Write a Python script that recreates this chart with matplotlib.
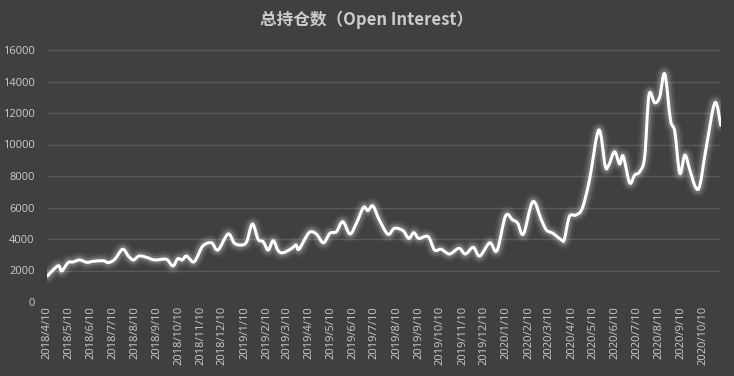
import matplotlib
matplotlib.use("Agg")
import matplotlib.pyplot as plt
import matplotlib.dates as mdates
from matplotlib.path import Path
from matplotlib.patches import PathPatch
import numpy as np
import pandas as pd

# Open interest at its turning points
dates = [
    "2018-04-10", "2018-04-25", "2018-04-30", "2018-05-09", "2018-05-16", "2018-05-25",
    "2018-06-04", "2018-06-13", "2018-06-27", "2018-07-04", "2018-07-13", "2018-07-24",
    "2018-08-01", "2018-08-08", "2018-08-16", "2018-08-26", "2018-09-07", "2018-09-23",
    "2018-10-02", "2018-10-09", "2018-10-15", "2018-10-21", "2018-10-30", "2018-11-04",
    "2018-11-13", "2018-11-25", "2018-12-04", "2018-12-18", "2018-12-27", "2019-01-06",
    "2019-01-13", "2019-01-21", "2019-01-29", "2019-02-05", "2019-02-12", "2019-02-19",
    "2019-02-26", "2019-03-05", "2019-03-17", "2019-03-23", "2019-03-27", "2019-04-10",
    "2019-04-20", "2019-04-30", "2019-05-09", "2019-05-18", "2019-05-27", "2019-06-06",
    "2019-06-15", "2019-06-25", "2019-07-01", "2019-07-08", "2019-07-17", "2019-07-29",
    "2019-08-07", "2019-08-19", "2019-08-27", "2019-09-03", "2019-09-10", "2019-09-23",
    "2019-10-02", "2019-10-11", "2019-10-23", "2019-11-05", "2019-11-14", "2019-11-25",
    "2019-12-04", "2019-12-18", "2019-12-28", "2020-01-09", "2020-01-19", "2020-01-26",
    "2020-02-03", "2020-02-16", "2020-02-28", "2020-03-06", "2020-03-15", "2020-03-27",
    "2020-03-31", "2020-04-07", "2020-04-16", "2020-04-25", "2020-05-05", "2020-05-18",
    "2020-05-27", "2020-06-01", "2020-06-09", "2020-06-16", "2020-06-21", "2020-06-30",
    "2020-07-07", "2020-07-14", "2020-07-21", "2020-07-27", "2020-08-04", "2020-08-11",
    "2020-08-18", "2020-08-26", "2020-09-01", "2020-09-08", "2020-09-15", "2020-09-22",
    "2020-09-30", "2020-10-06", "2020-10-15", "2020-10-27", "2020-11-04",
]
open_interest = [
    1650, 2300, 1970, 2500, 2540, 2670,
    2520, 2580, 2620, 2500, 2710, 3350,
    2920, 2670, 2920, 2840, 2670, 2710,
    2290, 2750, 2670, 2920, 2540, 2770,
    3560, 3760, 3300, 4320, 3730, 3620,
    3830, 4950, 3980, 3830, 3300, 3890,
    3260, 3130, 3410, 3620, 3350, 4400,
    4320, 3760, 4360, 4460, 5100, 4320,
    5000, 6010, 5800, 6100, 5210, 4300,
    4680, 4530, 4040, 4400, 4040, 4150,
    3300, 3350, 3050, 3410, 3050, 3470,
    2920, 3760, 3260, 5460, 5210, 5000,
    4320, 6370, 5210, 4570, 4360, 3940,
    3980, 5420, 5520, 5950, 7750, 10920,
    8630, 8700, 9540, 8760, 9270, 7570,
    8060, 8270, 9220, 13140, 12650, 13030,
    14480, 11550, 10810, 8170, 9330, 8380,
    7280, 7430, 9860, 12650, 11240,
]
tick_dates = pd.date_range("2018-04-10", "2020-10-10", freq=pd.DateOffset(months=1))
tick_labels = [f"{d.year}/{d.month}/{d.day}" for d in tick_dates]
y_ticks = list(range(0, 16001, 2000))

BG = "#404040"
TEXT = "#cccccc"

fig = plt.figure(figsize=(7.34, 3.76), dpi=100, facecolor=BG)
ax = fig.add_axes([47.3 / 734, 1 - 302 / 376, (720.7 - 47.3) / 734, 252 / 376])
ax.set_facecolor(BG)

x = mdates.date2num(pd.to_datetime(dates))
y = np.array(open_interest, dtype=float)

# smooth curve through the points (Catmull-Rom as cubic Bezier)
pts = np.column_stack([x, y])
ext = np.vstack([pts[0], pts, pts[-1]])
verts = [pts[0]]
codes = [Path.MOVETO]
for i in range(len(pts) - 1):
    p0, p1, p2, p3 = ext[i], ext[i + 1], ext[i + 2], ext[i + 3]
    verts += [p1 + (p2 - p0) / 6, p2 - (p3 - p1) / 6, p2]
    codes += [Path.CURVE4] * 3
curve = Path(verts, codes)

# glow underneath, then the line itself
for lw, a in [(11, 0.05), (8, 0.08), (5.5, 0.14)]:
    ax.add_patch(PathPatch(curve, fill=False, edgecolor="white", lw=lw, alpha=a,
                           capstyle="round", joinstyle="round", zorder=3))
ax.add_patch(PathPatch(curve, fill=False, edgecolor="white", lw=2.2,
                       capstyle="round", joinstyle="round", zorder=4))

ax.set_xlim(x[0], x[-1])
ax.set_ylim(0, 16000)
ax.set_yticks(y_ticks)
ax.set_xticks(mdates.date2num(tick_dates))
ax.set_xticklabels(tick_labels, rotation=90, family="Open Sans", fontsize=8, color=TEXT)
ax.set_yticklabels([str(v) for v in y_ticks], family="Open Sans", fontsize=8, color=TEXT)
ax.tick_params(axis="x", length=0, pad=3)
ax.tick_params(axis="y", length=0, pad=9)

ax.yaxis.grid(True, color="#5a5a5a", lw=1)
ax.set_axisbelow(True)
ax.yaxis.get_gridlines()[0].set_visible(False)
for s in ax.spines.values():
    s.set_visible(False)

fig.text(0.5, 1 - 20 / 376, "总持仓数（Open Interest）", ha="center", va="center",
         fontsize=12, fontweight="bold", color=TEXT,
         family=["Noto Sans CJK SC", "DejaVu Sans"])

fig.savefig("out.png", dpi=100, facecolor=BG)
